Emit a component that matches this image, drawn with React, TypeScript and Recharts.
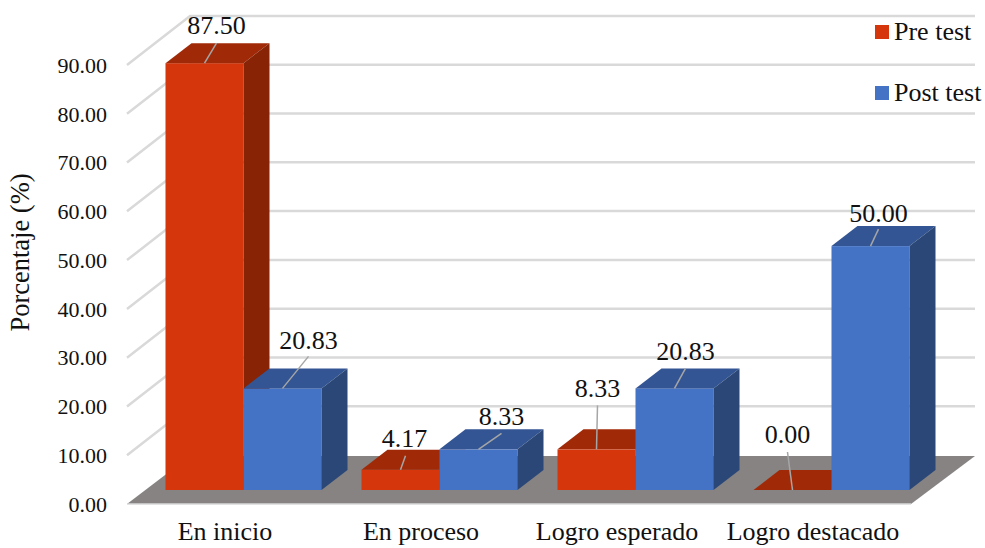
import { BarChart, Bar, XAxis, YAxis, CartesianGrid, LabelList, Legend } from "recharts";

const categories = ["En inicio", "En proceso", "Logro esperado", "Logro destacado"];
const preTest = [87.5, 4.17, 8.33, 0];
const postTest = [20.83, 8.33, 20.83, 50];
const yTicks = [0, 10, 20, 30, 40, 50, 60, 70, 80, 90];

const chartData = categories.map((name, i) => ({ name, pre: preTest[i], post: postTest[i] }));

// where each value label sits, measured from the middle of the bar's front top edge
const preLabelPos = [[12, -38], [4, -32], [1, -61], [-5, -56]];
const preLeaderEnd = [[12, -20], [5, -14], [1, -44], [-5, -38]];
const postLabelPos = [[26, -48], [23, -33], [11, -37], [8, -33]];
const postLeaderEnd = [[26, -32], [23, -16], [11, -20], [8, -17]];

const FONT = "'Liberation Serif', 'Times New Roman', serif";
const TEXT = "#111";
const GRID = "#D9D9D9";

// fake 3D: wall depth, bar depth, and how far bars stand in from the front of the floor
const WALL_DX = 63;
const WALL_DY = 49;
const BAR_DX = 26;
const BAR_DY = 20;
const SHIFT_X = 18.5;
const SHIFT_Y = 14;

function GridLine(props: any) {
  const { x1, x2, y1 } = props;
  const isFloor = Math.abs(y1 - 504) < 1;
  return (
    <g key={props.key}>
      {isFloor && (
        <polygon
          points={`${x1},${y1} ${x2},${y1} ${x2 + WALL_DX + 1},${y1 - WALL_DY + 1} ${x1 + WALL_DX},${y1 - WALL_DY + 1}`}
          fill="#868382"
        />
      )}
      {isFloor ? (
        <line x1={x1} x2={x2} y1={y1} y2={y1} stroke={GRID} strokeWidth={1.5} />
      ) : (
        <polyline
          points={`${x1},${y1} ${x1 + WALL_DX},${y1 - WALL_DY} ${x2 + WALL_DX + 1},${y1 - WALL_DY}`}
          fill="none"
          stroke={GRID}
          strokeWidth={2.5}
        />
      )}
    </g>
  );
}

function box3d(front: string, top: string, side: string) {
  return (props: any) => {
    const x = props.x + SHIFT_X;
    const y = props.y - SHIFT_Y;
    const w = props.width;
    const h = props.height;
    return (
      <g>
        {h > 0 && <rect x={x} y={y} width={w} height={h} fill={front} />}
        <polygon
          points={`${x},${y} ${x + w},${y} ${x + w + BAR_DX},${y - BAR_DY} ${x + BAR_DX},${y - BAR_DY}`}
          fill={top}
        />
        {h > 0 && (
          <polygon
            points={`${x + w},${y} ${x + w + BAR_DX},${y - BAR_DY} ${x + w + BAR_DX},${y + h - BAR_DY} ${x + w},${y + h}`}
            fill={side}
          />
        )}
      </g>
    );
  };
}

function valueLabel(values: number[], labelPos: number[][], leaderEnd: number[][]) {
  return (props: any) => {
    const { x, y, width, index } = props;
    const cx = x + SHIFT_X + width / 2;
    const cy = y - SHIFT_Y;
    return (
      <g>
        <line
          x1={cx}
          y1={cy}
          x2={cx + leaderEnd[index][0]}
          y2={cy + leaderEnd[index][1]}
          stroke="#A6A6A6"
          strokeWidth={1.5}
        />
        <text
          x={cx + labelPos[index][0]}
          y={cy + labelPos[index][1] + 9}
          textAnchor="middle"
          fontFamily={FONT}
          fontSize={26}
          fill={TEXT}
        >
          {values[index].toFixed(2)}
        </text>
      </g>
    );
  };
}

function LegendBox(props: any) {
  return (
    <div style={{ fontFamily: FONT, fontSize: 26, color: TEXT, lineHeight: "26px" }}>
      {props.payload.map((item: any, i: number) => (
        <div key={item.value} style={{ display: "flex", alignItems: "center", marginTop: i ? 35 : 0 }}>
          <span style={{ width: 14, height: 14, background: item.color, marginRight: 5 }} />
          {item.value}
        </div>
      ))}
    </div>
  );
}

export default function App() {
  return (
    <div style={{ position: "absolute", left: 0, top: 0, width: 985, height: 548, background: "#fff" }}>
      <BarChart
        width={985}
        height={548}
        data={chartData}
        margin={{ top: 65, right: 74, left: 0, bottom: 0 }}
        barSize={78}
        barGap={0}
      >
        <CartesianGrid horizontal={GridLine} vertical={false} />
        <XAxis
          dataKey="name"
          height={44}
          axisLine={false}
          tickLine={false}
          tickMargin={12}
          interval={0}
          tick={{ fontFamily: FONT, fontSize: 26, fill: TEXT }}
        />
        <YAxis
          width={127}
          domain={[0, 90]}
          ticks={yTicks}
          axisLine={false}
          tickLine={false}
          tickMargin={14}
          tickFormatter={(v: number) => v.toFixed(2)}
          tick={{ fontFamily: FONT, fontSize: 22, fill: TEXT }}
          label={{
            value: "Porcentaje (%)",
            angle: -90,
            position: "insideLeft",
            dx: 15,
            dy: -32,
            style: { fontFamily: FONT, fontSize: 26.5, fill: TEXT, textAnchor: "middle" },
          }}
        />
        <Legend
          layout="vertical"
          verticalAlign="middle"
          align="center"
          itemSorter={null}
          content={LegendBox}
          wrapperStyle={{ left: 875, top: 19, width: 110 }}
        />
        <Bar
          dataKey="pre"
          name="Pre test"
          fill="#D6360B"
          isAnimationActive={false}
          shape={box3d("#D6360B", "#A02A08", "#882306")}
        >
          <LabelList dataKey="pre" content={valueLabel(preTest, preLabelPos, preLeaderEnd)} />
        </Bar>
        <Bar
          dataKey="post"
          name="Post test"
          fill="#4472C4"
          isAnimationActive={false}
          shape={box3d("#4472C4", "#335593", "#2A4777")}
        >
          <LabelList dataKey="post" content={valueLabel(postTest, postLabelPos, postLeaderEnd)} />
        </Bar>
      </BarChart>
    </div>
  );
}
